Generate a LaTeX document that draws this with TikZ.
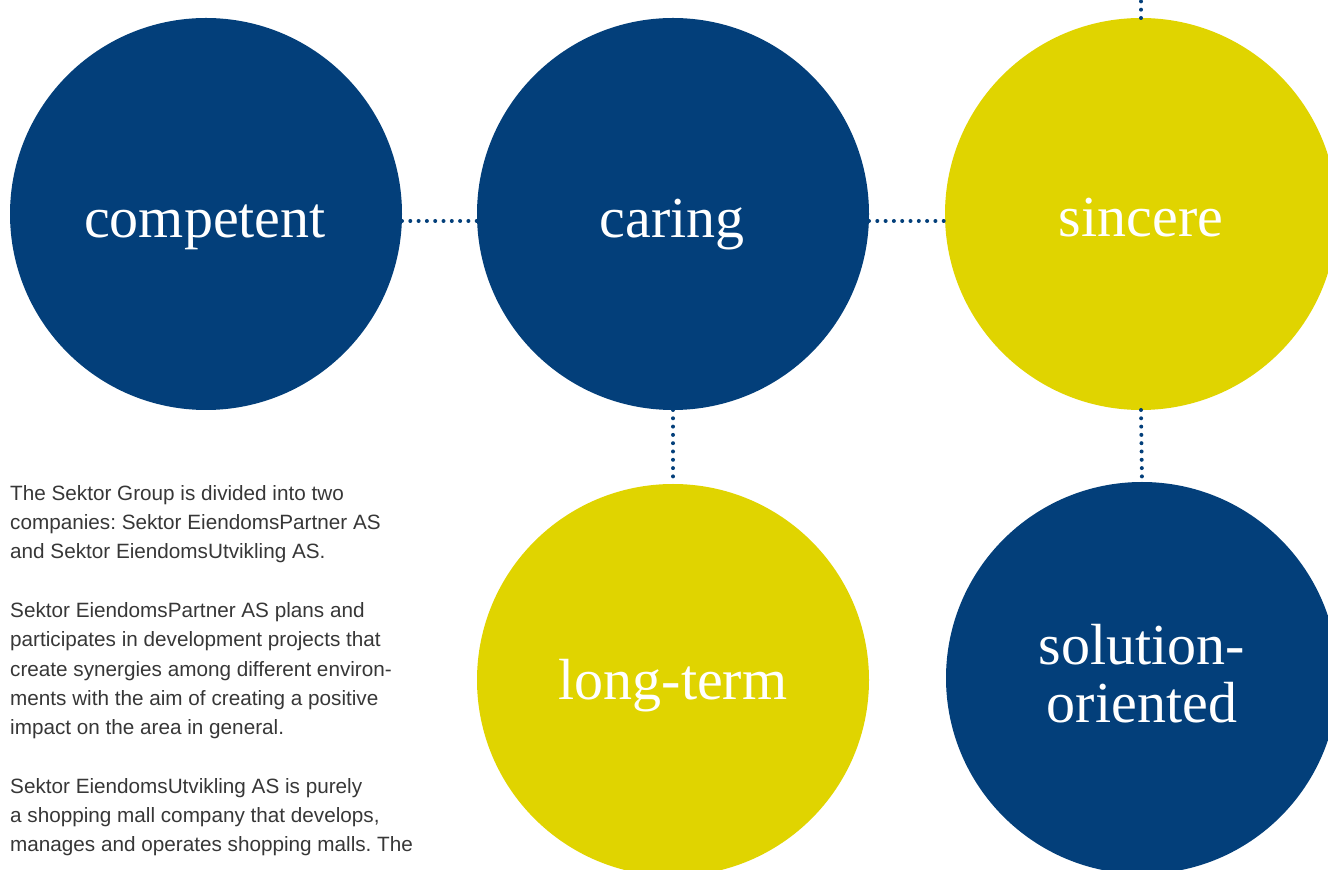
\documentclass[tikz,border=0pt]{standalone}
\usepackage{fontspec}
\setmainfont{Liberation Serif}
\newfontfamily\bodyfont{Liberation Sans}
\definecolor{sekblue}{RGB}{3,63,122}
\definecolor{sekyellow}{RGB}{224,212,0}
\definecolor{bodygray}{RGB}{55,55,55}
\frenchspacing
\begin{document}
\begin{tikzpicture}[x=1pt,y=1pt,
  bubble/.style={circle,minimum size=392pt,inner sep=0pt,outer sep=0pt},
  bluebubble/.style={bubble,fill=sekblue},
  yellowbubble/.style={bubble,fill=sekyellow},
  word/.style={text=white,font=\fontsize{58}{58}\selectfont,anchor=base,inner sep=0pt,align=center},
  dotline/.style={draw=sekblue,line width=4pt,line cap=round,dash pattern=on 0pt off 8.3pt},
  body/.style={text=bodygray,font=\bodyfont\frenchspacing\fontsize{20.7}{29.3}\selectfont,anchor=base west,inner sep=0pt,align=left}
]
\useasboundingbox (0,0) rectangle (1328,870);
\clip (0,0) rectangle (1328,870);

\node[bluebubble] (competent) at (206,656) {};
\node[bluebubble] (caring) at (673,656) {};
\node[yellowbubble] (sincere) at (1141,656) {};
\node[yellowbubble] (longterm) at (673,190) {};
\node[bluebubble] (solution) at (1142,192) {};

\node[word] (tcompetent) at (205,632) {competent};
\node[word] (tcaring) at (672,632) {caring};
\node[word] (tsincere) at (1141,633) {sincere};
\node[word] (tlongterm) at (673,170) {long-term};
\node[word,anchor=base] (tsolution) at (1142,205) {solution-};
\node[word,anchor=base] (toriented) at (1142,147) {oriented};

\coordinate (topend) at (1141,870);
\draw[dotline] ([yshift=-7pt]competent.east) -- ([yshift=-7pt]caring.west);
\draw[dotline] ([yshift=-7pt]caring.east) -- ([yshift=-7pt]sincere.west);
\draw[dotline] (caring.south) -- (longterm.north);
\draw[dotline] (sincere.south) -- (solution.north);
\draw[dotline] (sincere.north) -- (topend);

\node[body] (para) at (10,18) {The Sektor Group is divided into two\\
companies: Sektor EiendomsPartner AS\\
and Sektor EiendomsUtvikling AS.\\[29.3pt]
Sektor EiendomsPartner AS plans and\\
participates in development projects that\\
create synergies among different environ-\\
ments with the aim of creating a positive\\
impact on the area in general.\\[29.3pt]
Sektor EiendomsUtvikling AS is purely\\
a shopping mall company that develops,\\
manages and operates shopping malls. The};
\end{tikzpicture}
\end{document}
